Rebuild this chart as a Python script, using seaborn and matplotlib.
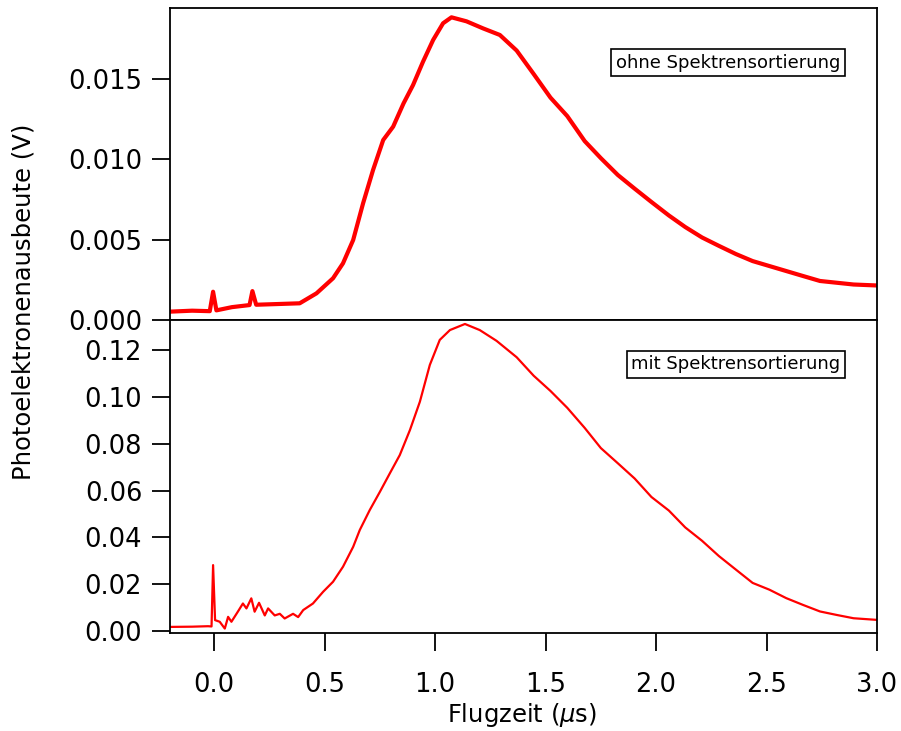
import numpy as np
import pandas as pd
import matplotlib
matplotlib.use("Agg")
import matplotlib.pyplot as plt
import seaborn as sns

# Flugzeit in microseconds, signal in volts
t_ohne = [-0.20, -0.10, -0.02, -0.005, 0.01, 0.08, 0.16, 0.173, 0.19, 0.30, 0.387,
          0.463, 0.538, 0.583, 0.629, 0.674, 0.719, 0.765, 0.810, 0.857, 0.900,
          0.945, 0.991, 1.036, 1.074, 1.142, 1.217, 1.293, 1.369, 1.446, 1.522,
          1.598, 1.677, 1.750, 1.827, 1.903, 1.979, 2.058, 2.132, 2.208, 2.284,
          2.361, 2.437, 2.513, 2.589, 2.665, 2.742, 2.818, 2.894, 3.0]
v_ohne = [0.00052, 0.00058, 0.00055, 0.00176, 0.00060, 0.00080, 0.00093, 0.00180,
          0.00095, 0.00100, 0.00104, 0.00166, 0.00260, 0.00353, 0.00498, 0.00727,
          0.00934, 0.01121, 0.01204, 0.01349, 0.01463, 0.01608, 0.01744, 0.01848,
          0.01885, 0.01860, 0.01816, 0.01775, 0.01678, 0.01532, 0.01385, 0.01270,
          0.01114, 0.01008, 0.00903, 0.00818, 0.00735, 0.00651, 0.00579, 0.00514,
          0.00462, 0.00411, 0.00367, 0.00336, 0.00305, 0.00274, 0.00243, 0.00232,
          0.00221, 0.00215]

t_mit = [-0.20, -0.10, -0.028, -0.012, -0.005, 0.004, 0.025, 0.048, 0.063, 0.078,
         0.107, 0.130, 0.146, 0.168, 0.183, 0.203, 0.229, 0.244, 0.274, 0.297,
         0.319, 0.357, 0.380, 0.403, 0.447, 0.493, 0.538, 0.583, 0.629, 0.659,
         0.704, 0.750, 0.795, 0.840, 0.886, 0.931, 0.976, 1.021, 1.067, 1.135,
         1.202, 1.278, 1.369, 1.446, 1.522, 1.598, 1.677, 1.750, 1.827, 1.903,
         1.979, 2.058, 2.132, 2.208, 2.284, 2.361, 2.437, 2.513, 2.589, 2.665,
         2.742, 2.818, 2.894, 3.0]
v_mit = [0.0018, 0.0019, 0.0021, 0.0020, 0.0282, 0.0047, 0.0040, 0.0011, 0.0061,
         0.0040, 0.0083, 0.0118, 0.0097, 0.0140, 0.0083, 0.0121, 0.0067, 0.0097,
         0.0067, 0.0074, 0.0054, 0.0074, 0.0060, 0.0090, 0.0118, 0.0168, 0.0211,
         0.0275, 0.0360, 0.0432, 0.0517, 0.0595, 0.0674, 0.0752, 0.0859, 0.0980,
         0.1137, 0.1244, 0.1286, 0.1312, 0.1286, 0.1240, 0.1170, 0.1091, 0.1026,
         0.0954, 0.0868, 0.0782, 0.0717, 0.0652, 0.0573, 0.0515, 0.0443, 0.0386,
         0.0321, 0.0263, 0.0206, 0.0177, 0.0141, 0.0112, 0.0084, 0.0069, 0.0055,
         0.0048]

top_ticks = [0.000, 0.005, 0.010, 0.015]
bottom_ticks = [0.00, 0.02, 0.04, 0.06, 0.08, 0.10, 0.12]
x_ticks = [0.0, 0.5, 1.0, 1.5, 2.0, 2.5, 3.0]

sns.set_theme(style="ticks")
plt.rcParams['font.family'] = ['DejaVu Sans']
plt.rcParams['text.color'] = 'black'
plt.rcParams['axes.labelcolor'] = 'black'

fig = plt.figure(figsize=(9.01, 7.31), dpi=100)
W, H = 901, 731
ax1 = fig.add_axes([170 / W, 1 - 320 / H, 707 / W, 312 / H])
ax2 = fig.add_axes([170 / W, 1 - 633 / H, 707 / W, 313 / H], sharex=ax1)

df1 = pd.DataFrame({"t": t_ohne, "v": v_ohne})
df2 = pd.DataFrame({"t": t_mit, "v": v_mit})
sns.lineplot(data=df1, x="t", y="v", ax=ax1, color="#ff0000", linewidth=3.0)
sns.lineplot(data=df2, x="t", y="v", ax=ax2, color="#ff0000", linewidth=1.6)

ax1.set_xlim(-0.2, 3.0)
ax1.set_ylim(0, 0.01943)
ax2.set_ylim(-0.0008, 0.1329)

ax1.set_yticks(top_ticks)
ax1.set_yticklabels([f"{v:.3f}" for v in top_ticks])
ax2.set_yticks(bottom_ticks)
ax2.set_yticklabels([f"{v:.2f}" for v in bottom_ticks])
ax2.set_xticks(x_ticks)
ax2.set_xticklabels([f"{v:.1f}" for v in x_ticks])

for ax in (ax1, ax2):
    for s in ax.spines.values():
        s.set_visible(True)
        s.set_linewidth(1.3)
        s.set_color("black")
    ax.tick_params(axis="y", direction="out", length=13, width=1.3,
                   labelsize=18.5, pad=7, colors="black")
    ax.set_xlabel("")
    ax.set_ylabel("")
ax1.tick_params(axis="x", bottom=False, labelbottom=False)
ax2.tick_params(axis="x", direction="out", length=13, width=1.3,
                labelsize=18.5, pad=15, colors="black")

ax1.text(0.948, 0.825, "ohne Spektrensortierung", transform=ax1.transAxes,
         ha="right", va="center", fontsize=13, color="black",
         bbox=dict(boxstyle="square,pad=0.25", fc="white", ec="black", lw=1.2))
ax2.text(0.948, 0.859, "mit Spektrensortierung", transform=ax2.transAxes,
         ha="right", va="center", fontsize=13, color="black",
         bbox=dict(boxstyle="square,pad=0.25", fc="white", ec="black", lw=1.2))

fig.text(522 / W, 1 - 715 / H, r"Flugzeit ($\mu$s)", ha="center", va="center",
         fontsize=17.5, color="black")
fig.text(24 / W, 1 - 302 / H, "Photoelektronenausbeute (V)", ha="center",
         va="center", rotation=90, fontsize=17.5, color="black")

fig.savefig("out.png", dpi=100)
